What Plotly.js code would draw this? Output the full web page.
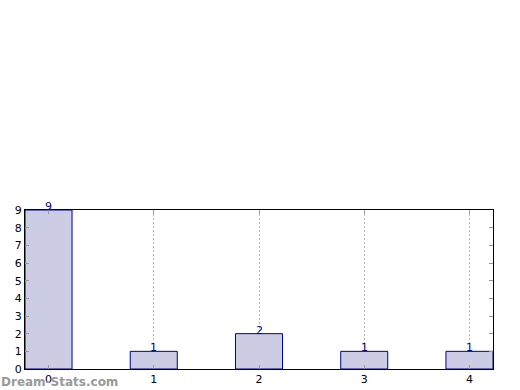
<!DOCTYPE html>
<html><head><meta charset="utf-8">
<script src="https://cdn.plot.ly/plotly-3.0.1.min.js"></script>
<style>html,body{margin:0;padding:0;background:#fff}#c{width:520px;height:390px}</style>
</head><body><div id="c"></div>
<script>
const categories = [0, 1, 2, 3, 4];
const counts = [9, 1, 2, 1, 1];
const tickLabels = ['0', '1', '2', '3', '4'];
const yTicks = [0, 1, 2, 3, 4, 5, 6, 7, 8, 9];

const trace = {
  type: 'bar', x: categories, y: counts, width: 0.447,
  marker: {color: '#ccccE4', line: {color: '#00008b', width: 1}},
  hoverinfo: 'none'
};
const annotations = categories.map((c, i) => ({
  x: c, y: counts[i], xref: 'x', yref: 'y', text: String(counts[i]),
  showarrow: false, yanchor: 'bottom', yshift: -5,
  font: {family: 'DejaVu Sans', size: 11, color: '#00008b'}
}));
annotations.push({
  xref: 'paper', yref: 'paper', x: -0.055, y: -0.025, xanchor: 'left', yanchor: 'top',
  text: '<b>Dream-Stats.com</b>', showarrow: false,
  font: {family: 'DejaVu Sans', size: 12, color: '#999999'}
});
const layout = {
  width: 520, height: 390, showlegend: false,
  margin: {l: 25, r: 27, t: 210, b: 21},
  paper_bgcolor: '#fff', plot_bgcolor: '#fff',
  font: {family: 'DejaVu Sans', size: 11, color: '#000'},
  xaxis: {
    range: [-0.2235, 4.2235], tickvals: categories, ticktext: tickLabels,
    showgrid: true, gridcolor: '#b8b8b8', griddash: '2px,2px', gridwidth: 1,
    ticks: 'inside', ticklen: 4, tickcolor: '#999', mirror: 'ticks',
    showline: true, linecolor: '#000', linewidth: 1, zeroline: false,
    tickfont: {size: 11}
  },
  yaxis: {
    range: [0, 9], tickvals: yTicks, showgrid: false,
    ticks: 'inside', ticklen: 4, tickcolor: '#999', mirror: 'ticks',
    showline: true, linecolor: '#000', linewidth: 1, zeroline: false,
    tickfont: {size: 11}
  },
  annotations: annotations
};
Plotly.newPlot('c', [trace], layout, {staticPlot: true, displayModeBar: false});
</script></body></html>
